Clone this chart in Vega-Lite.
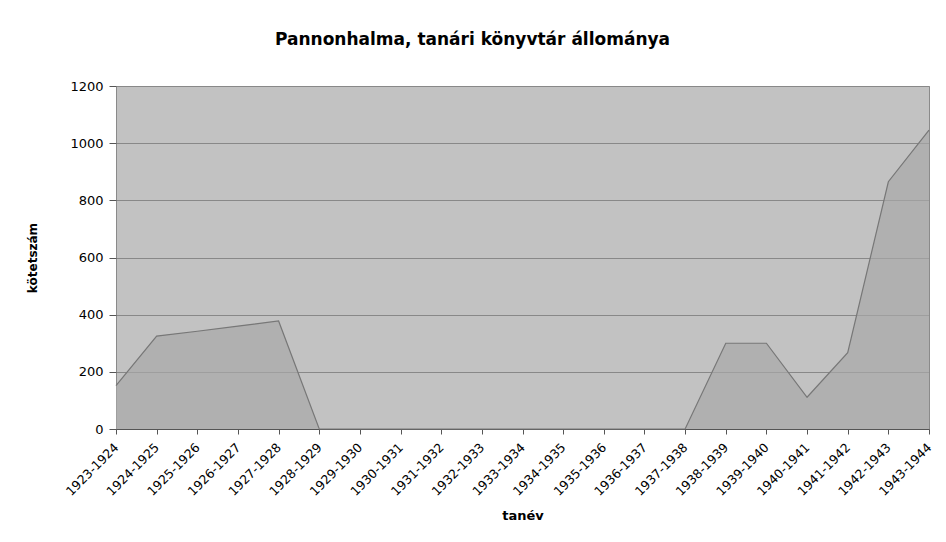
{
  "$schema": "https://vega.github.io/schema/vega-lite/v6.json",
  "autosize": {"type": "none"},
  "padding": {"left": 116, "top": 86, "right": 17, "bottom": 113},
  "width": 813,
  "height": 343,
  "background": "white",
  "title": {
    "text": "Pannonhalma, tanári könyvtár állománya",
    "font": "DejaVu Sans",
    "fontSize": 17,
    "fontWeight": "bold",
    "color": "#000000",
    "anchor": "middle",
    "frame": "group",
    "dx": -50,
    "offset": 31
  },
  "config": {
    "view": {"fill": "#c2c2c2", "stroke": "#8a8a8a", "strokeWidth": 1},
    "axis": {
      "labelFont": "DejaVu Sans",
      "titleFont": "DejaVu Sans",
      "labelColor": "#000000",
      "titleColor": "#000000",
      "domainColor": "#555555",
      "tickColor": "#555555"
    }
  },
  "data": {
    "values": [
      {"tanev": "1923-1924", "kotet": 152},
      {"tanev": "1924-1925", "kotet": 325},
      {"tanev": "1925-1926", "kotet": 342},
      {"tanev": "1926-1927", "kotet": 360},
      {"tanev": "1927-1928", "kotet": 378},
      {"tanev": "1928-1929", "kotet": 0},
      {"tanev": "1929-1930", "kotet": 0},
      {"tanev": "1930-1931", "kotet": 0},
      {"tanev": "1931-1932", "kotet": 0},
      {"tanev": "1932-1933", "kotet": 0},
      {"tanev": "1933-1934", "kotet": 0},
      {"tanev": "1934-1935", "kotet": 0},
      {"tanev": "1935-1936", "kotet": 0},
      {"tanev": "1936-1937", "kotet": 0},
      {"tanev": "1937-1938", "kotet": 0},
      {"tanev": "1938-1939", "kotet": 300},
      {"tanev": "1939-1940", "kotet": 300},
      {"tanev": "1940-1941", "kotet": 111},
      {"tanev": "1941-1942", "kotet": 267},
      {"tanev": "1942-1943", "kotet": 865},
      {"tanev": "1943-1944", "kotet": 1046}
    ]
  },
  "mark": {"type": "area", "color": "#a8a8a8", "line": {"color": "#777777", "strokeWidth": 1.2}},
  "encoding": {
    "x": {
      "field": "tanev",
      "type": "ordinal",
      "sort": null,
      "scale": {"type": "point", "padding": 0},
      "axis": {
        "title": "tanév",
        "titleFontSize": 13,
        "titleFontWeight": "bold",
        "titlePadding": 12,
        "labelAngle": -45,
        "labelAlign": "right",
        "labelBaseline": "middle",
        "labelFontSize": 12.5,
        "labelPadding": 11,
        "tickSize": 5,
        "grid": false,
        "domain": true
      }
    },
    "y": {
      "field": "kotet",
      "type": "quantitative",
      "scale": {"domain": [0, 1200]},
      "axis": {
        "title": "kötetszám",
        "titleFontSize": 12,
        "titleFontWeight": "bold",
        "titlePadding": 30,
        "values": [0, 200, 400, 600, 800, 1000, 1200],
        "format": "d",
        "labelFontSize": 13,
        "labelPadding": 6,
        "tickSize": 7,
        "grid": true,
        "gridColor": "#888888",
        "gridWidth": 1.2,
        "domain": false
      }
    }
  }
}
